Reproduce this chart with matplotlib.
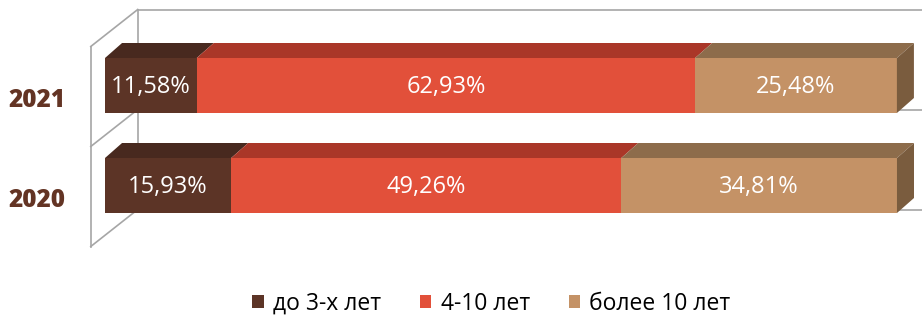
import matplotlib.pyplot as plt
from matplotlib.patches import Polygon

plt.rcParams['font.family'] = ['Open Sans', 'DejaVu Sans']

# data
years = ['2020', '2021']
share_lt3 = [15.93, 11.58]
share_4_10 = [49.26, 62.93]
share_gt10 = [34.81, 25.48]
series_names = ['до 3-х лет', '4-10 лет', 'более 10 лет']

front_colors = ['#5C3426', '#E2503A', '#C49266']
top_colors = ['#48291F', '#AA3728', '#8D6C4B']
side_color = '#7A5C3E'
wall_color = '#A6A6A6'

# pseudo-3d geometry (data units: x in %, y in category steps)
BAR_H = 0.55
DX = 2.15      # depth shift along x
DY = 0.15      # depth shift along y
WALL_X = -1.8
WALL_DX = 5.93
WALL_DY = 0.37
WALL_SHIFT = -0.11

fig = plt.figure(figsize=(9.22, 3.17), dpi=100)
ax = fig.add_axes([0, 0, 1, 1])
ax.set_xlim(-13.26, 103.16)
ax.set_ylim(-1.315, 1.855)
ax.axis('off')

# walls
n = len(years)
bounds = [i - 0.5 + WALL_SHIFT for i in range(n + 1)]
xr = ax.get_xlim()[1]
lw = 1.2
ax.plot([WALL_X, WALL_X], [bounds[0], bounds[-1]], color=wall_color, lw=lw, zorder=1)
ax.plot([WALL_X + WALL_DX] * 2, [bounds[0] + WALL_DY, bounds[-1] + WALL_DY],
        color=wall_color, lw=lw, zorder=1)
for b in bounds:
    ax.plot([WALL_X, WALL_X + WALL_DX], [b, b + WALL_DY], color=wall_color, lw=lw, zorder=1)
    ax.plot([WALL_X + WALL_DX, xr], [b + WALL_DY, b + WALL_DY], color=wall_color, lw=lw, zorder=1)

# bars
series = [share_lt3, share_4_10, share_gt10]
handles = []
for i, y in enumerate(range(n)):
    left = 0.0
    top = y + BAR_H / 2
    bottom = y - BAR_H / 2
    for k, vals in enumerate(series):
        v = vals[i]
        h = ax.barh(y, v, left=left, height=BAR_H, color=front_colors[k],
                    edgecolor='none', zorder=3)
        if i == 0:
            handles.append(h)
        ax.add_patch(Polygon([(left, top), (left + v, top),
                              (left + v + DX, top + DY), (left + DX, top + DY)],
                             closed=True, facecolor=top_colors[k], edgecolor='none',
                             zorder=3))
        txt = f"{v:.2f}%".replace('.', ',')
        ax.text(left + v / 2, y - 0.02, txt, ha='center', va='center', color='white',
                fontsize=17, zorder=5)
        left += v
    ax.add_patch(Polygon([(left, top), (left, bottom),
                          (left + DX, bottom + DY), (left + DX, top + DY)],
                         closed=True, facecolor=side_color, edgecolor='none', zorder=3))
    ax.text(WALL_X - 3.2, y - 0.15, years[i], ha='right', va='center',
            fontsize=17.5, fontweight='heavy', color='#633424')

fig.legend([h[0] for h in handles], series_names, loc='center',
           bbox_to_anchor=(0.533, 13 / 317), ncol=3, frameon=False,
           fontsize=16.5, handlelength=0.5, handleheight=0.5,
           handletextpad=0.4, columnspacing=1.7)

fig.savefig('out.png', dpi=100)
